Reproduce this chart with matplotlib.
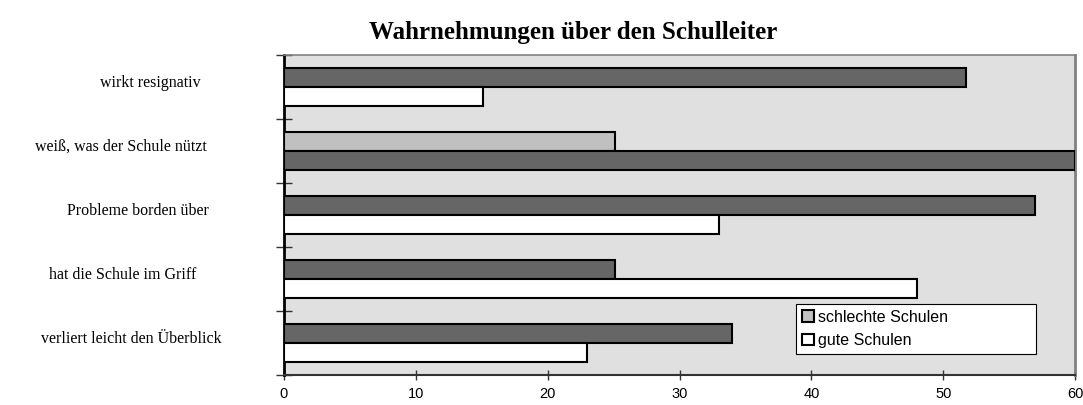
import numpy as np
import matplotlib.pyplot as plt
from matplotlib.patches import Patch
from matplotlib.transforms import blended_transform_factory

# categories from top to bottom
categories = ['wirkt resignativ', 'weiß, was der Schule nützt', 'Probleme borden über',
              'hat die Schule im Griff', 'verliert leicht den Überblick']
# upper bar / lower bar of each category
upper_values = [51.7, 25.1, 57.0, 25.1, 34.0]
lower_values = [15.1, 60.0, 33.0, 48.0, 23.0]
upper_colors = ['#666666', '#c0c0c0', '#666666', '#666666', '#666666']
lower_colors = ['#ffffff', '#666666', '#ffffff', '#ffffff', '#ffffff']
legend_labels = ['schlechte Schulen', 'gute Schulen']
legend_colors = ['#c0c0c0', '#ffffff']
x_ticks = [0, 10, 20, 30, 40, 50, 60]

serif = 'Liberation Serif'
sans = 'Liberation Sans'

fig = plt.figure(figsize=(10.83, 4.05), dpi=100)
ax = fig.add_axes([284 / 1083, 1 - 375 / 405, (1075 - 284) / 1083, (375 - 55) / 405])
ax.set_facecolor('#e0e0e0')

n = len(categories)
y = np.arange(n)[::-1]
h = 0.29
ax.barh(y + h / 2, upper_values, height=h, color=upper_colors, edgecolor='black', linewidth=1.5, zorder=3)
ax.barh(y - h / 2, lower_values, height=h, color=lower_colors, edgecolor='black', linewidth=1.5, zorder=3)

ax.set_xlim(0, 60)
ax.set_ylim(-0.5, n - 0.5)

# x axis
ax.set_xticks(x_ticks)
ax.set_xticklabels([str(t) for t in x_ticks], fontfamily=sans, fontsize=10.5)
ax.tick_params(axis='x', direction='inout', length=7, width=1, color='#333333', pad=5)

# y axis: ticks between categories, labels drawn separately
ax.set_yticks(np.arange(-0.5, n, 1.0))
ax.set_yticklabels([])
ax.tick_params(axis='y', direction='inout', length=12, width=1, color='#333333')

trans = blended_transform_factory(fig.transFigure, ax.transData)
label_x = [150, 121, 138, 123, 131]
for yi, lx, label in zip(y, label_x, categories):
    ax.text(lx / 1083, yi + 0.07, label, transform=trans, ha='center', va='center',
            fontfamily=serif, fontsize=11.5)

ax.spines['left'].set_color('black')
ax.spines['left'].set_linewidth(2)
ax.spines['bottom'].set_color('#333333')
ax.spines['bottom'].set_linewidth(1.5)
ax.spines['top'].set_color('#808080')
ax.spines['top'].set_linewidth(1.2)
ax.spines['right'].set_color('#808080')
ax.spines['right'].set_linewidth(2)

handles = [Patch(facecolor=c, edgecolor='black', linewidth=1.5) for c in legend_colors]
leg = fig.legend(handles, legend_labels, loc='upper left', mode='expand',
                 bbox_to_anchor=(796 / 1083, 1 - 304 / 405, 240 / 1083, 0),
                 prop={'family': sans, 'size': 11.5}, frameon=True, fancybox=False,
                 handlelength=0.8, handleheight=0.7, handletextpad=0.25,
                 borderpad=0.35, labelspacing=0.55, borderaxespad=0)
leg.get_frame().set_edgecolor('black')
leg.get_frame().set_linewidth(0.8)
leg.get_frame().set_facecolor('white')
leg.get_frame().set_alpha(1)

fig.text(573 / 1083, 1 - 33 / 405, 'Wahrnehmungen über den Schulleiter', ha='center', va='center',
         fontfamily=serif, fontweight='bold', fontsize=18)

fig.savefig('out.png', dpi=100)
